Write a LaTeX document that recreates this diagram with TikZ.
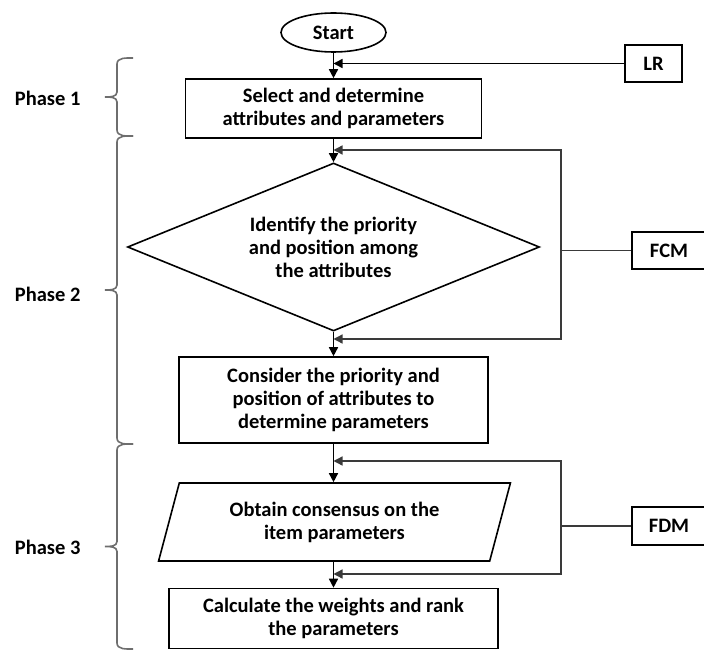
\documentclass[tikz,border=0pt]{standalone}
\usepackage{fontspec}
\setmainfont{Carlito}
\usetikzlibrary{shapes.geometric,arrows.meta}
\definecolor{feedgray}{HTML}{3A3A3A}
\definecolor{bracegray}{HTML}{6E6E6E}
\newcommand{\flowfont}{\fontsize{20.5}{23}\selectfont\bfseries}

\tikzset{
  block/.style={draw, line width=1.6pt, align=center, inner sep=0pt, font=\flowfont},
  tag/.style={block, minimum height=37pt},
  flow/.style={line width=1.5pt, -{Triangle[length=9pt,width=9pt]}},
  feedback/.style={draw=feedgray, line width=1.3pt},
  phasebrace/.style={draw=bracegray, line width=1.6pt},
  phase/.style={anchor=east, font=\flowfont}
}

\begin{document}
\begin{tikzpicture}[x=1pt, y=-1pt]
  \useasboundingbox (0,0) rectangle (704,652);
  \clip (0,0) rectangle (704,652);

  \node[block, ellipse, minimum width=105pt, minimum height=39pt] (start) at (333.5,32.5) {Start};
  \node[block, minimum width=296pt, minimum height=59pt] (select) at (333.5,108.5)
    {Select and determine\\attributes and parameters};
  \node[block, diamond, aspect=2.45, minimum width=412pt, minimum height=168pt] (identify) at (333.5,247)
    {Identify the priority\\and position among\\the attributes};
  \node[block, minimum width=309pt, minimum height=86pt] (consider) at (333.5,400)
    {Consider the priority and\\position of attributes to\\determine parameters};
  \node[block, trapezium, trapezium left angle=71, trapezium right angle=109,
        trapezium stretches=true, minimum width=353pt, minimum height=78pt] (obtain) at (334.5,522)
    {Obtain consensus on the\\item parameters};
  \node[block, minimum width=329pt, minimum height=60pt] (calculate) at (333.5,618.5)
    {Calculate the weights and rank\\the parameters};

  \node[tag, minimum width=57pt] (lr) at (653.5,63.5) {LR};
  \node[tag, minimum width=74pt] (fcm) at (669,250.5) {FCM};
  \node[tag, minimum width=74pt, minimum height=38pt] (fdm) at (669,526) {FDM};

  \coordinate (fcmtop) at (561,150);
  \coordinate (fcmbot) at (561,339);
  \coordinate (fdmtop) at (561,461);
  \coordinate (fdmbot) at (561,574);

  \draw[flow] (start.south) -- (select.north);
  \draw[flow] (select.south) -- (identify.north);
  \draw[flow] (identify.south) -- (consider.north);
  \draw[flow] (consider.south) -- (consider.south |- obtain.north);
  \draw[flow] (consider.south |- obtain.south) -- (calculate.north);

  \draw[flow] (lr.west) -- (lr.west -| start.south);
  \draw[feedback, {Triangle[length=9pt,width=9pt]}-{Triangle[length=9pt,width=9pt]}]
    (fcmtop -| identify.north) -- (fcmtop) -- (fcmbot) -- (fcmbot -| identify.south);
  \draw[feedback] (fcm.west) -- (fcm.west -| fcmtop);
  \draw[feedback, {Triangle[length=9pt,width=9pt]}-{Triangle[length=9pt,width=9pt]}]
    (fdmtop -| consider.south) -- (fdmtop) -- (fdmbot) -- (fdmbot -| calculate.north);
  \draw[feedback] (fdm.west) -- (fdm.west -| fdmtop);

  \draw[phasebrace] (133,58) to[out=180,in=90] (117,64) -- (117,92)
    to[out=270,in=0] (105,97) to[out=0,in=90] (117,102) -- (117,130) to[out=270,in=180] (133,136);
  \draw[phasebrace] (133,136) to[out=180,in=90] (117,142) -- (117,285)
    to[out=270,in=0] (105,290) to[out=0,in=90] (117,295) -- (117,438) to[out=270,in=180] (133,444);
  \draw[phasebrace] (133,444) to[out=180,in=90] (117,450) -- (117,541.5)
    to[out=270,in=0] (105,546.5) to[out=0,in=90] (117,551.5) -- (117,643) to[out=270,in=180] (133,649);
  \node[phase] (phase1) at (84,98) {Phase 1};
  \node[phase] (phase2) at (84,294) {Phase 2};
  \node[phase] (phase3) at (84,547) {Phase 3};
\end{tikzpicture}
\end{document}
